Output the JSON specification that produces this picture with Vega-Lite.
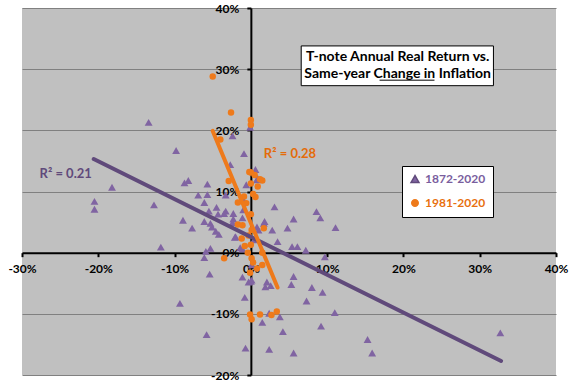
{
  "$schema": "https://vega.github.io/schema/vega-lite/v6.json",
  "width": 534,
  "height": 367,
  "autosize": {"type": "none"},
  "padding": {"left": 22, "top": 8, "right": 20, "bottom": 9},
  "background": "white",
  "config": {"view": {"fill": "#C0C0C0", "stroke": null}, "font": "Lato"},
  "datasets": {
    "pts": [
      {"series": "1872-2020", "x": -13.4, "y": 21.3},
      {"series": "1872-2020", "x": -9.8, "y": 16.7},
      {"series": "1872-2020", "x": -8.7, "y": 11.4},
      {"series": "1872-2020", "x": -8.2, "y": 11.8},
      {"series": "1872-2020", "x": -18.2, "y": 10.7},
      {"series": "1872-2020", "x": -6.9, "y": 9.4},
      {"series": "1872-2020", "x": -20.5, "y": 8.4},
      {"series": "1872-2020", "x": -20.5, "y": 7.1},
      {"series": "1872-2020", "x": -12.7, "y": 7.8},
      {"series": "1872-2020", "x": -8.9, "y": 5.3},
      {"series": "1872-2020", "x": -7.7, "y": 4.0},
      {"series": "1872-2020", "x": -11.8, "y": 0.9},
      {"series": "1872-2020", "x": -9.3, "y": -8.3},
      {"series": "1872-2020", "x": -5.7, "y": 11.2},
      {"series": "1872-2020", "x": -5.7, "y": 9.5},
      {"series": "1872-2020", "x": -2.4, "y": 19.1},
      {"series": "1872-2020", "x": -0.9, "y": 16.2},
      {"series": "1872-2020", "x": -2.7, "y": 14.4},
      {"series": "1872-2020", "x": -0.6, "y": 11.1},
      {"series": "1872-2020", "x": 0.6, "y": 13.6},
      {"series": "1872-2020", "x": 0.9, "y": 12.2},
      {"series": "1872-2020", "x": -0.1, "y": 20.5},
      {"series": "1872-2020", "x": -6.1, "y": 8.2},
      {"series": "1872-2020", "x": -5.5, "y": 6.8},
      {"series": "1872-2020", "x": -4.5, "y": 7.4},
      {"series": "1872-2020", "x": -4.3, "y": 6.3},
      {"series": "1872-2020", "x": -3.3, "y": 6.8},
      {"series": "1872-2020", "x": -6.1, "y": 5.1},
      {"series": "1872-2020", "x": -5.1, "y": 4.2},
      {"series": "1872-2020", "x": -4.6, "y": 3.5},
      {"series": "1872-2020", "x": -4.2, "y": 3.0},
      {"series": "1872-2020", "x": -2.3, "y": 6.4},
      {"series": "1872-2020", "x": -2.3, "y": 5.5},
      {"series": "1872-2020", "x": -1.1, "y": 5.7},
      {"series": "1872-2020", "x": -2.1, "y": 2.5},
      {"series": "1872-2020", "x": -1.4, "y": 0.8},
      {"series": "1872-2020", "x": -5.3, "y": 0.7},
      {"series": "1872-2020", "x": -5.9, "y": 0.2},
      {"series": "1872-2020", "x": -6.1, "y": -0.8},
      {"series": "1872-2020", "x": -5.4, "y": -3.5},
      {"series": "1872-2020", "x": -0.3, "y": -4.8},
      {"series": "1872-2020", "x": 3.1, "y": 7.5},
      {"series": "1872-2020", "x": 8.6, "y": 6.7},
      {"series": "1872-2020", "x": 9.1, "y": 5.7},
      {"series": "1872-2020", "x": 5.6, "y": 5.5},
      {"series": "1872-2020", "x": 4.8, "y": 4.0},
      {"series": "1872-2020", "x": 2.8, "y": 3.7},
      {"series": "1872-2020", "x": 1.8, "y": 5.1},
      {"series": "1872-2020", "x": 11.1, "y": 4.1},
      {"series": "1872-2020", "x": 0.8, "y": 4.2},
      {"series": "1872-2020", "x": 3.5, "y": 1.8},
      {"series": "1872-2020", "x": 5.4, "y": 1.0},
      {"series": "1872-2020", "x": 6.1, "y": 1.0},
      {"series": "1872-2020", "x": 7.2, "y": 0.4},
      {"series": "1872-2020", "x": 9.7, "y": -0.7},
      {"series": "1872-2020", "x": -1.1, "y": 8.9},
      {"series": "1872-2020", "x": -1.0, "y": 7.0},
      {"series": "1872-2020", "x": 0.4, "y": 2.1},
      {"series": "1872-2020", "x": 5.6, "y": -3.9},
      {"series": "1872-2020", "x": 0.0, "y": -4.7},
      {"series": "1872-2020", "x": 2.1, "y": -4.8},
      {"series": "1872-2020", "x": -1.1, "y": -4.0},
      {"series": "1872-2020", "x": 0.1, "y": -4.5},
      {"series": "1872-2020", "x": 1.9, "y": -5.6},
      {"series": "1872-2020", "x": 2.6, "y": -5.4},
      {"series": "1872-2020", "x": 5.3, "y": -5.2},
      {"series": "1872-2020", "x": 8.0, "y": -5.7},
      {"series": "1872-2020", "x": 9.4, "y": -6.5},
      {"series": "1872-2020", "x": 7.3, "y": -7.9},
      {"series": "1872-2020", "x": 11.0, "y": -9.8},
      {"series": "1872-2020", "x": -0.8, "y": -7.3},
      {"series": "1872-2020", "x": 1.5, "y": -11.4},
      {"series": "1872-2020", "x": 3.8, "y": -10.5},
      {"series": "1872-2020", "x": 4.2, "y": -12.9},
      {"series": "1872-2020", "x": 9.2, "y": -12.0},
      {"series": "1872-2020", "x": -5.8, "y": -13.4},
      {"series": "1872-2020", "x": -0.7, "y": -15.6},
      {"series": "1872-2020", "x": 2.4, "y": -15.8},
      {"series": "1872-2020", "x": 5.6, "y": -16.4},
      {"series": "1872-2020", "x": 15.3, "y": -14.2},
      {"series": "1872-2020", "x": 15.9, "y": -16.4},
      {"series": "1872-2020", "x": 32.7, "y": -13.1},
      {"series": "1872-2020", "x": 2.4, "y": -9.9},
      {"series": "1872-2020", "x": -3.3, "y": 9.4},
      {"series": "1872-2020", "x": -5.3, "y": 4.8},
      {"series": "1872-2020", "x": -2.4, "y": 4.9},
      {"series": "1872-2020", "x": -2.0, "y": 2.6},
      {"series": "1872-2020", "x": 1.0, "y": 3.7},
      {"series": "1872-2020", "x": 1.7, "y": 4.8},
      {"series": "1872-2020", "x": 0.8, "y": 11.9},
      {"series": "1872-2020", "x": -3.5, "y": 6.4},
      {"series": "1872-2020", "x": -1.1, "y": 0.6},
      {"series": "1872-2020", "x": 0.1, "y": -2.0},
      {"series": "1981-2020", "x": -5.0, "y": 28.8},
      {"series": "1981-2020", "x": -2.6, "y": 22.9},
      {"series": "1981-2020", "x": -4.0, "y": 18.5},
      {"series": "1981-2020", "x": 0.0, "y": 21.7},
      {"series": "1981-2020", "x": 0.0, "y": 20.9},
      {"series": "1981-2020", "x": 0.0, "y": 13.1},
      {"series": "1981-2020", "x": 0.5, "y": 12.7},
      {"series": "1981-2020", "x": 0.0, "y": 11.3},
      {"series": "1981-2020", "x": 0.9, "y": 10.8},
      {"series": "1981-2020", "x": 1.5, "y": 11.8},
      {"series": "1981-2020", "x": -2.9, "y": 11.7},
      {"series": "1981-2020", "x": -0.9, "y": 9.2},
      {"series": "1981-2020", "x": 0.3, "y": 9.6},
      {"series": "1981-2020", "x": 0.6, "y": 9.1},
      {"series": "1981-2020", "x": -1.7, "y": 8.2},
      {"series": "1981-2020", "x": -0.6, "y": 8.1},
      {"series": "1981-2020", "x": 0.0, "y": 6.3},
      {"series": "1981-2020", "x": -1.7, "y": 4.6},
      {"series": "1981-2020", "x": -1.1, "y": 4.5},
      {"series": "1981-2020", "x": 0.1, "y": 3.7},
      {"series": "1981-2020", "x": 1.7, "y": 4.0},
      {"series": "1981-2020", "x": -1.2, "y": 2.3},
      {"series": "1981-2020", "x": 0.0, "y": 1.3},
      {"series": "1981-2020", "x": -0.8, "y": 1.1},
      {"series": "1981-2020", "x": -0.4, "y": 0.0},
      {"series": "1981-2020", "x": 1.5, "y": 0.0},
      {"series": "1981-2020", "x": -3.5, "y": -0.9},
      {"series": "1981-2020", "x": 0.1, "y": -0.9},
      {"series": "1981-2020", "x": 0.3, "y": -1.6},
      {"series": "1981-2020", "x": 1.5, "y": -2.0},
      {"series": "1981-2020", "x": -0.1, "y": -3.3},
      {"series": "1981-2020", "x": -0.1, "y": -10.1},
      {"series": "1981-2020", "x": 0.1, "y": -10.9},
      {"series": "1981-2020", "x": 1.2, "y": -10.1},
      {"series": "1981-2020", "x": 2.7, "y": -10.2},
      {"series": "1981-2020", "x": 3.4, "y": -9.6},
      {"series": "1981-2020", "x": 0.8, "y": -2.6},
      {"series": "1981-2020", "x": -0.3, "y": 2.8},
      {"series": "1981-2020", "x": 1.2, "y": 12.0},
      {"series": "1981-2020", "x": -0.2, "y": 13.2}
    ],
    "trend": [
      {"series": "1872-2020", "x": -20.6, "y": 15.3},
      {"series": "1872-2020", "x": 32.8, "y": -17.7},
      {"series": "1981-2020", "x": -5.0, "y": 19.9},
      {"series": "1981-2020", "x": 3.5, "y": -5.7}
    ]
  },
  "layer": [
    {
      "data": {"name": "pts"},
      "mark": {"type": "point", "filled": true, "opacity": 1, "strokeWidth": 0},
      "encoding": {
        "x": {
          "field": "x", "type": "quantitative",
          "scale": {"domain": [-30, 40], "nice": false, "zero": false},
          "axis": {
            "title": null, "values": [-30, -20, -10, 0, 10, 20, 30, 40],
            "labelExpr": "datum.value + '%'", "offset": -122.333,
            "grid": false, "domainColor": "black", "domainWidth": 2,
            "tickColor": "black", "tickSize": 4, "tickWidth": 2,
            "labelFont": "Lato", "labelFontSize": 12, "labelFontWeight": "bold",
            "labelColor": "black", "labelPadding": 7, "labelFlush": false,
            "labelOverlap": false, "labelBound": false
          }
        },
        "y": {
          "field": "y", "type": "quantitative",
          "scale": {"domain": [-20, 40], "nice": false, "zero": false},
          "axis": {
            "title": null, "values": [-20, -10, 0, 10, 20, 30, 40],
            "labelExpr": "datum.value + '%'", "offset": -228.857,
            "grid": true, "gridColor": "#808080", "gridWidth": 1.2, "gridOpacity": 1,
            "domainColor": "black", "domainWidth": 2,
            "tickColor": "black", "tickSize": 4, "tickWidth": 2,
            "labelFont": "Lato", "labelFontSize": 12, "labelFontWeight": "bold",
            "labelColor": "black", "labelPadding": 8, "labelFlush": false,
            "labelOverlap": false, "labelBound": false
          }
        },
        "size": {
          "field": "series", "type": "nominal",
          "scale": {"domain": ["1872-2020", "1981-2020"], "range": [62, 42]},
          "legend": null
        },
        "color": {
          "field": "series", "type": "nominal",
          "scale": {"domain": ["1872-2020", "1981-2020"], "range": ["#8064A2", "#EE7A1B"]},
          "legend": {
            "orient": "none", "legendX": 380, "legendY": 158, "title": null,
            "fillColor": "white", "strokeColor": "black", "padding": 7,
            "rowPadding": 10, "labelFont": "Lato", "labelFontSize": 12,
            "labelFontWeight": "bold", "symbolSize": 45, "labelOffset": 4,
            "labelColor": {"expr": "datum.value === '1872-2020' ? '#7A5E9E' : '#E8700F'"}
          }
        },
        "shape": {
          "field": "series", "type": "nominal",
          "scale": {"domain": ["1872-2020", "1981-2020"], "range": ["triangle-up", "circle"]},
          "legend": {
            "orient": "none", "legendX": 380, "legendY": 158, "title": null,
            "fillColor": "white", "strokeColor": "black", "padding": 7,
            "rowPadding": 10, "labelFont": "Lato", "labelFontSize": 12,
            "labelFontWeight": "bold", "symbolSize": 45, "labelOffset": 4,
            "labelColor": {"expr": "datum.value === '1872-2020' ? '#7A5E9E' : '#E8700F'"}
          }
        }
      }
    },
    {
      "data": {"name": "trend"},
      "mark": {"type": "line", "strokeWidth": 4, "strokeCap": "round"},
      "encoding": {
        "x": {"field": "x", "type": "quantitative", "axis": {"title": null}},
        "y": {"field": "y", "type": "quantitative", "axis": {"title": null}},
        "detail": {"field": "series"},
        "stroke": {
          "field": "series", "type": "nominal",
          "scale": {"domain": ["1872-2020", "1981-2020"], "range": ["#604A7B", "#EE7A1B"]},
          "legend": null
        }
      }
    },
    {
      "data": {"values": [{}]},
      "mark": {"type": "text", "text": "R² = 0.21", "color": "#604A7B", "font": "Lato", "fontSize": 13, "fontWeight": "bold", "align": "left", "baseline": "middle"},
      "encoding": {"x": {"datum": -27.7}, "y": {"datum": 12.8}}
    },
    {
      "data": {"values": [{}]},
      "mark": {"type": "text", "text": "R² = 0.28", "color": "#E46C0A", "font": "Lato", "fontSize": 13, "fontWeight": "bold", "align": "left", "baseline": "middle"},
      "encoding": {"x": {"datum": 1.7}, "y": {"datum": 16.2}}
    },
    {
      "data": {"values": [{}]},
      "mark": {"type": "rect", "fill": "white", "stroke": "black", "strokeWidth": 1},
      "encoding": {"x": {"datum": 6.6}, "x2": {"datum": 31.8}, "y": {"datum": 33.8}, "y2": {"datum": 27.3}}
    },
    {
      "data": {"values": [{}]},
      "mark": {"type": "text", "text": "T-note Annual Real Return vs.", "color": "black", "font": "Lato", "fontSize": 14, "fontWeight": "bold", "align": "center", "baseline": "middle"},
      "encoding": {"x": {"datum": 19.24}, "y": {"datum": 32.03}}
    },
    {
      "data": {"values": [{}]},
      "mark": {"type": "text", "text": "Same-year Change in Inflation", "color": "black", "font": "Lato", "fontSize": 14, "fontWeight": "bold", "align": "center", "baseline": "middle"},
      "encoding": {"x": {"datum": 19.24}, "y": {"datum": 29.2}}
    },
    {
      "data": {"values": [{}]},
      "mark": {"type": "rule", "color": "black", "strokeWidth": 1},
      "encoding": {"x": {"datum": 16.87}, "x2": {"datum": 24.07}, "y": {"datum": 28.2}}
    }
  ]
}
